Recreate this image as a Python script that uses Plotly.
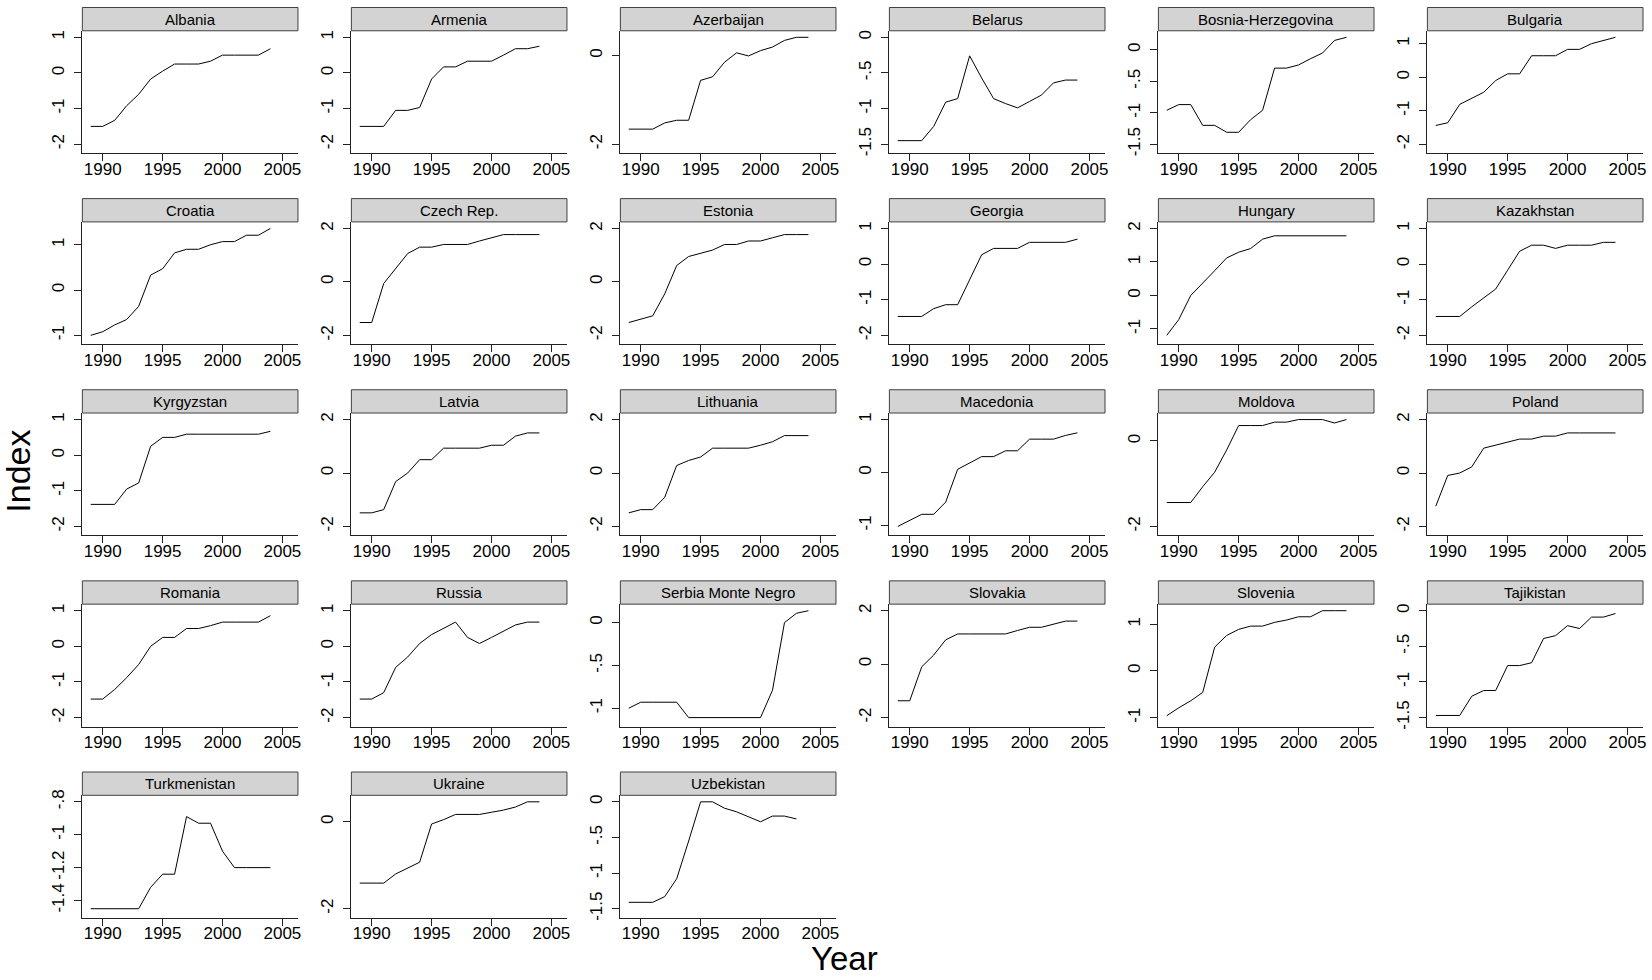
import plotly.graph_objects as go

years = list(range(1989, 2005))

countries = ["Albania", "Armenia", "Azerbaijan", "Belarus", "Bosnia-Herzegovina", "Bulgaria",
             "Croatia", "Czech Rep.", "Estonia", "Georgia", "Hungary", "Kazakhstan",
             "Kyrgyzstan", "Latvia", "Lithuania", "Macedonia", "Moldova", "Poland",
             "Romania", "Russia", "Serbia Monte Negro", "Slovakia", "Slovenia", "Tajikistan",
             "Turkmenistan", "Ukraine", "Uzbekistan"]

albania = [-1.5, -1.5, -1.33, -0.92, -0.6, -0.17, 0.05, 0.25, 0.25, 0.25, 0.33, 0.5, 0.5, 0.5, 0.5, 0.68]
armenia = [-1.5, -1.5, -1.5, -1.05, -1.05, -0.97, -0.17, 0.17, 0.17, 0.33, 0.33, 0.33, 0.5, 0.68, 0.68, 0.75]
azerbaijan = [-1.66, -1.66, -1.66, -1.52, -1.46, -1.46, -0.56, -0.48, -0.15, 0.06, -0.01, 0.11, 0.19, 0.34, 0.41, 0.41]
belarus = [-1.45, -1.45, -1.45, -1.25, -0.91, -0.86, -0.26, -0.57, -0.86, -0.93, -0.99, -0.9, -0.81, -0.64, -0.6, -0.6]
bosnia = [-0.96, -0.87, -0.87, -1.2, -1.2, -1.31, -1.31, -1.11, -0.96, -0.29, -0.29, -0.24, -0.14, -0.05, 0.15, 0.2]
bulgaria = [-1.44, -1.36, -0.81, -0.64, -0.45, -0.1, 0.1, 0.1, 0.64, 0.64, 0.64, 0.83, 0.83, 1.0, 1.1, 1.19]
croatia = [-1.0, -0.92, -0.77, -0.65, -0.36, 0.33, 0.47, 0.82, 0.9, 0.9, 1.0, 1.07, 1.07, 1.21, 1.21, 1.36]
czech = [-1.52, -1.52, -0.06, 0.48, 1.06, 1.3, 1.3, 1.4, 1.4, 1.4, 1.53, 1.65, 1.77, 1.77, 1.77, 1.77]
estonia = [-1.52, -1.4, -1.27, -0.45, 0.61, 0.95, 1.06, 1.19, 1.4, 1.4, 1.53, 1.53, 1.65, 1.77, 1.77, 1.77]
georgia = [-1.47, -1.47, -1.47, -1.25, -1.14, -1.14, -0.44, 0.26, 0.44, 0.44, 0.44, 0.61, 0.61, 0.61, 0.61, 0.7]
hungary = [-1.19, -0.72, 0.0, 0.36, 0.74, 1.12, 1.29, 1.4, 1.68, 1.78, 1.78, 1.78, 1.78, 1.78, 1.78, 1.78]
kazakhstan = [-1.47, -1.47, -1.47, -1.2, -0.96, -0.7, -0.17, 0.36, 0.53, 0.53, 0.44, 0.53, 0.53, 0.53, 0.61, 0.61]
kyrgyzstan = [-1.38, -1.38, -1.38, -0.95, -0.78, 0.25, 0.5, 0.5, 0.59, 0.59, 0.59, 0.59, 0.59, 0.59, 0.59, 0.67]
latvia = [-1.49, -1.49, -1.37, -0.32, 0.0, 0.5, 0.5, 0.93, 0.93, 0.93, 0.93, 1.04, 1.04, 1.38, 1.5, 1.5]
lithuania = [-1.49, -1.37, -1.37, -0.91, 0.28, 0.47, 0.6, 0.93, 0.93, 0.93, 0.93, 1.04, 1.17, 1.4, 1.4, 1.4]
macedonia = [-1.02, -0.91, -0.79, -0.79, -0.56, 0.06, 0.18, 0.3, 0.3, 0.41, 0.41, 0.63, 0.63, 0.63, 0.7, 0.75]
moldova = [-1.44, -1.44, -1.44, -1.07, -0.73, -0.21, 0.36, 0.36, 0.36, 0.44, 0.44, 0.5, 0.5, 0.5, 0.42, 0.5]
poland = [-1.24, -0.09, 0.0, 0.23, 0.93, 1.04, 1.17, 1.27, 1.27, 1.38, 1.38, 1.5, 1.5, 1.5, 1.5, 1.5]
romania = [-1.48, -1.48, -1.21, -0.88, -0.51, 0.0, 0.25, 0.25, 0.5, 0.5, 0.58, 0.68, 0.68, 0.68, 0.68, 0.86]
russia = [-1.48, -1.48, -1.3, -0.59, -0.3, 0.08, 0.33, 0.5, 0.68, 0.25, 0.08, 0.25, 0.43, 0.6, 0.68, 0.68]
serbia = [-1.0, -0.93, -0.93, -0.93, -0.93, -1.11, -1.11, -1.11, -1.11, -1.11, -1.11, -1.11, -0.79, 0.0, 0.11, 0.14]
slovakia = [-1.37, -1.37, -0.1, 0.34, 0.91, 1.13, 1.13, 1.13, 1.13, 1.13, 1.26, 1.38, 1.38, 1.49, 1.61, 1.61]
slovenia = [-0.96, -0.79, -0.64, -0.46, 0.51, 0.76, 0.89, 0.96, 0.96, 1.04, 1.09, 1.16, 1.16, 1.29, 1.29, 1.29]
tajikistan = [-1.47, -1.47, -1.47, -1.2, -1.12, -1.12, -0.77, -0.77, -0.73, -0.39, -0.35, -0.21, -0.25, -0.09, -0.09, -0.04]
turkmenistan = [-1.45, -1.45, -1.45, -1.45, -1.45, -1.32, -1.24, -1.24, -0.89, -0.93, -0.93, -1.1, -1.2, -1.2, -1.2, -1.2]
ukraine = [-1.41, -1.41, -1.41, -1.2, -1.07, -0.93, -0.05, 0.05, 0.17, 0.17, 0.17, 0.22, 0.27, 0.34, 0.46, 0.46]
uzbekistan = [-1.41, -1.41, -1.41, -1.33, -1.08, -0.55, 0.0, 0.0, -0.09, -0.14, -0.21, -0.28, -0.2, -0.2, -0.24]

series = [albania, armenia, azerbaijan, belarus, bosnia, bulgaria,
          croatia, czech, estonia, georgia, hungary, kazakhstan,
          kyrgyzstan, latvia, lithuania, macedonia, moldova, poland,
          romania, russia, serbia, slovakia, slovenia, tajikistan,
          turkmenistan, ukraine, uzbekistan]

year_ticks = [1990, 1995, 2000, 2005]

yticks = [[-2, -1, 0, 1], [-2, -1, 0, 1], [-2, 0], [-1.5, -1, -0.5, 0], [-1.5, -1, -0.5, 0], [-2, -1, 0, 1],
          [-1, 0, 1], [-2, 0, 2], [-2, 0, 2], [-2, -1, 0, 1], [-1, 0, 1, 2], [-2, -1, 0, 1],
          [-2, -1, 0, 1], [-2, 0, 2], [-2, 0, 2], [-1, 0, 1], [-2, 0], [-2, 0, 2],
          [-2, -1, 0, 1], [-2, -1, 0, 1], [-1, -0.5, 0], [-2, 0, 2], [-1, 0, 1], [-1.5, -1, -0.5, 0],
          [-1.4, -1.2, -1, -0.8], [-2, 0], [-1.5, -1, -0.5, 0]]

# ---- layout constants (pixels) ----
W, H = 1652, 980
NCOL = 6
COL0, COLSTEP, PANELW = 82.5, 269.5, 216.0
ROW0, ROWSTEP = 1.5, 192.9
STRIPH, PANELH = 23.5, 147.0
PX_PER_YEAR = 12.0
X0 = 1988.3
PAD_TOP, PAD_BOT = 6.6, 9.0
FONT = "Liberation Sans, Arial, sans-serif"


def fmt(v):
    s = f"{v:g}"
    if s.startswith("-0."):
        s = "-" + s[2:]
    elif s.startswith("0."):
        s = s[1:]
    return s


fig = go.Figure()
layout = {}
shapes, annotations = [], []

for i, (name, vals, ticks) in enumerate(zip(countries, series, yticks)):
    r, c = divmod(i, NCOL)
    left = COL0 + c * COLSTEP
    right = left + PANELW
    top = ROW0 + r * ROWSTEP
    strip_bot = top + STRIPH
    bot = top + PANELH
    k = "" if i == 0 else str(i + 1)
    xa, ya = "x" + k, "y" + k

    fig.add_trace(go.Scatter(x=years[:len(vals)], y=vals, mode="lines",
                             line=dict(color="black", width=1),
                             xaxis=xa, yaxis=ya, showlegend=False, hoverinfo="skip"))

    lo = min(min(vals), min(ticks))
    hi = max(max(vals), max(ticks))
    inner = (bot - strip_bot) - PAD_TOP - PAD_BOT
    upp = (hi - lo) / inner
    yr = [lo - PAD_BOT * upp, hi + PAD_TOP * upp]

    layout["xaxis" + k] = dict(
        domain=[left / W, right / W], anchor=ya,
        range=[X0, X0 + PANELW / PX_PER_YEAR],
        tickvals=year_ticks, ticktext=[str(t) for t in year_ticks],
        ticks="outside", ticklen=7, tickwidth=1, tickcolor="#222",
        ticklabelstandoff=-7,
        showline=True, linecolor="#222", linewidth=1,
        showgrid=False, zeroline=False,
        tickfont=dict(family=FONT, size=17, color="black"),
        fixedrange=True,
    )
    layout["yaxis" + k] = dict(
        domain=[1 - bot / H, 1 - strip_bot / H], anchor=xa,
        range=yr, tickvals=ticks, ticktext=[fmt(t) for t in ticks],
        tickangle=-90,
        ticks="outside", ticklen=7, tickwidth=1, tickcolor="#222",
        ticklabelstandoff=4,
        showline=True, linecolor="#222", linewidth=1,
        showgrid=False, zeroline=False,
        tickfont=dict(family=FONT, size=17, color="black"),
        fixedrange=True,
    )
    shapes.append(dict(type="rect", xref="paper", yref="paper",
                       x0=left / W, x1=right / W, y0=1 - strip_bot / H, y1=1 - top / H,
                       fillcolor="#d3d3d3", line=dict(color="#404040", width=1)))
    annotations.append(dict(text=name, xref="paper", yref="paper",
                            x=(left + right) / 2 / W, y=1 - (top + STRIPH / 2) / H,
                            xanchor="center", yanchor="middle", showarrow=False,
                            font=dict(family=FONT, size=15, color="black")))

annotations.append(dict(text="Index", xref="paper", yref="paper",
                        x=18 / W, y=1 - 469 / H, xanchor="center", yanchor="middle",
                        textangle=-90, showarrow=False,
                        font=dict(family=FONT, size=34, color="black")))
annotations.append(dict(text="Year", xref="paper", yref="paper",
                        x=846 / W, y=0.0, xanchor="center", yanchor="bottom",
                        showarrow=False, borderpad=0, borderwidth=0,
                        font=dict(family=FONT, size=33, color="black")))

fig.update_layout(
    width=W, height=H, autosize=False,
    margin=dict(l=0, r=0, t=0, b=0),
    paper_bgcolor="white", plot_bgcolor="white",
    shapes=shapes, annotations=annotations,
    **layout,
)

fig.write_html("out.html", config={"displayModeBar": False},
               post_script="document.body.style.margin='0';")
